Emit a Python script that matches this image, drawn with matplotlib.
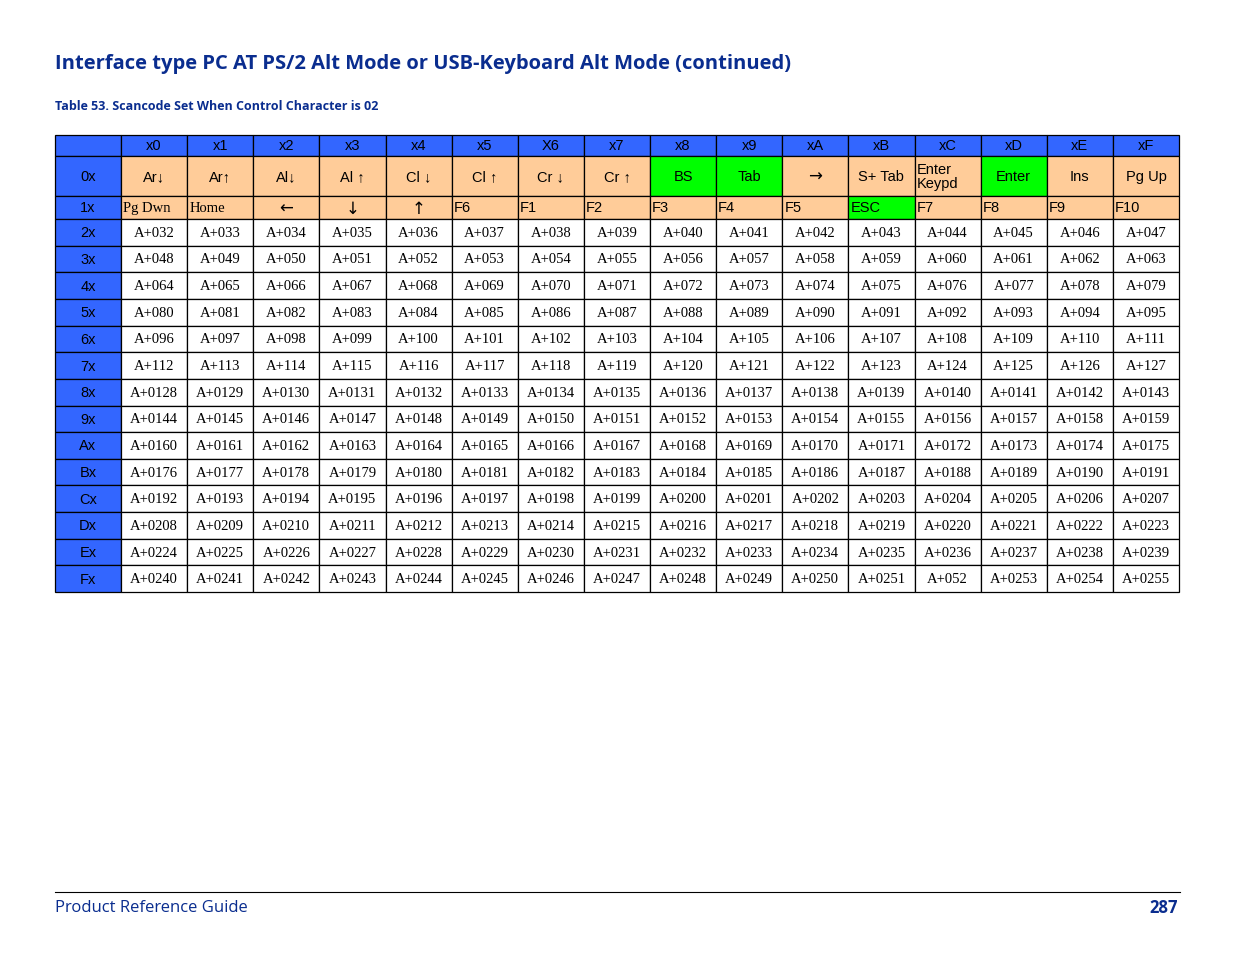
import matplotlib
matplotlib.use("Agg")
import matplotlib.pyplot as plt
from matplotlib.patches import Rectangle

col_labels = ["x0","x1","x2","x3","x4","x5","X6","x7","x8","x9","xA","xB","xC","xD","xE","xF"]
row_labels = ["0x","1x","2x","3x","4x","5x","6x","7x","8x","9x","Ax","Bx","Cx","Dx","Ex","Fx"]
row0 = ["Ar\u2193","Ar\u2191","Al\u2193","Al \u2191","Cl \u2193","Cl \u2191","Cr \u2193","Cr \u2191","BS","Tab","\u2192","S+ Tab","Enter\nKeypd","Enter","Ins","Pg Up"]
row0_green = ["BS","Tab","Enter"]
row1 = ["Pg Dwn","Home","\u2190","\u2193","\u2191","F6","F1","F2","F3","F4","F5","ESC","F7","F8","F9","F10"]
row1_green = ["ESC"]
data_rows = [
 "A+032 A+033 A+034 A+035 A+036 A+037 A+038 A+039 A+040 A+041 A+042 A+043 A+044 A+045 A+046 A+047",
 "A+048 A+049 A+050 A+051 A+052 A+053 A+054 A+055 A+056 A+057 A+058 A+059 A+060 A+061 A+062 A+063",
 "A+064 A+065 A+066 A+067 A+068 A+069 A+070 A+071 A+072 A+073 A+074 A+075 A+076 A+077 A+078 A+079",
 "A+080 A+081 A+082 A+083 A+084 A+085 A+086 A+087 A+088 A+089 A+090 A+091 A+092 A+093 A+094 A+095",
 "A+096 A+097 A+098 A+099 A+100 A+101 A+102 A+103 A+104 A+105 A+106 A+107 A+108 A+109 A+110 A+111",
 "A+112 A+113 A+114 A+115 A+116 A+117 A+118 A+119 A+120 A+121 A+122 A+123 A+124 A+125 A+126 A+127",
 "A+0128 A+0129 A+0130 A+0131 A+0132 A+0133 A+0134 A+0135 A+0136 A+0137 A+0138 A+0139 A+0140 A+0141 A+0142 A+0143",
 "A+0144 A+0145 A+0146 A+0147 A+0148 A+0149 A+0150 A+0151 A+0152 A+0153 A+0154 A+0155 A+0156 A+0157 A+0158 A+0159",
 "A+0160 A+0161 A+0162 A+0163 A+0164 A+0165 A+0166 A+0167 A+0168 A+0169 A+0170 A+0171 A+0172 A+0173 A+0174 A+0175",
 "A+0176 A+0177 A+0178 A+0179 A+0180 A+0181 A+0182 A+0183 A+0184 A+0185 A+0186 A+0187 A+0188 A+0189 A+0190 A+0191",
 "A+0192 A+0193 A+0194 A+0195 A+0196 A+0197 A+0198 A+0199 A+0200 A+0201 A+0202 A+0203 A+0204 A+0205 A+0206 A+0207",
 "A+0208 A+0209 A+0210 A+0211 A+0212 A+0213 A+0214 A+0215 A+0216 A+0217 A+0218 A+0219 A+0220 A+0221 A+0222 A+0223",
 "A+0224 A+0225 A+0226 A+0227 A+0228 A+0229 A+0230 A+0231 A+0232 A+0233 A+0234 A+0235 A+0236 A+0237 A+0238 A+0239",
 "A+0240 A+0241 A+0242 A+0243 A+0244 A+0245 A+0246 A+0247 A+0248 A+0249 A+0250 A+0251 A+052 A+0253 A+0254 A+0255",
]
title = "Interface type PC AT PS/2 Alt Mode or USB-Keyboard Alt Mode (continued)"
subtitle = "Table 53. Scancode Set When Control Character is 02"

BLUE = "#3366ff"; ORANGE = "#ffcc99"; GREEN = "#00ff00"; NAVY = "#0a2d8f"
W, H = 1235, 954
fig = plt.figure(figsize=(W/100, H/100), dpi=100)
ax = fig.add_axes([0, 0, 1, 1])
ax.set_xlim(0, W); ax.set_ylim(H, 0); ax.axis("off")

x0, c0w, cw = 55, 66, 66.125
ys = [136, 157, 197, 220]
rh = (593 - 220) / 14
for i in range(14):
    ys.append(220 + rh * (i + 1))
xs = [x0, x0 + c0w] + [x0 + c0w + cw * (j + 1) for j in range(16)]

def cell(r, c, txt, fc, family="Liberation Sans", size=10.5, align="center"):
    xa, xb, ya, yb = xs[c], xs[c+1], ys[r], ys[r+1]
    ax.add_patch(Rectangle((xa, ya), xb - xa, yb - ya, facecolor=fc, edgecolor="black", lw=0.9))
    if align == "center":
        ax.text((xa+xb)/2, (ya+yb)/2, txt, ha="center", va="center", family=family, fontsize=size, linespacing=1.0)
    else:
        ax.text(xa + 2, (ya+yb)/2, txt, ha="left", va="center", family=family, fontsize=size, linespacing=1.05)

cell(0, 0, "", BLUE)
for j, t in enumerate(col_labels):
    cell(0, j+1, t, BLUE)
for i, t in enumerate(row_labels):
    cell(i+1, 0, t, BLUE)
for j, t in enumerate(row0):
    if t.startswith("Enter\n"):
        cell(1, j+1, t, ORANGE, align="left")
    elif t == "\u2192":
        cell(1, j+1, t, ORANGE, family="DejaVu Sans", size=12)
    else:
        cell(1, j+1, t, GREEN if t in row0_green else ORANGE)
for j, t in enumerate(row1):
    fc = GREEN if t in row1_green else ORANGE
    if j < 2:
        cell(2, j+1, t, fc, family="Liberation Serif", align="left")
    elif j < 5:
        cell(2, j+1, t, fc, family="DejaVu Sans", size=12)
    else:
        cell(2, j+1, t, fc, align="left")
for i, row in enumerate(data_rows):
    for j, t in enumerate(row.split()):
        cell(3+i, j+1, t, "white", family="Liberation Serif", size=10.5)

ax.text(55, 64, title, ha="left", va="center", family="Open Sans", fontweight="bold",
        fontsize=14.5, color=NAVY)
ax.text(55, 106, subtitle, ha="left", va="center", family="Open Sans", fontweight="bold",
        fontsize=9.0, color=NAVY)
ax.plot([55, 1180], [893, 893], color="black", lw=0.8)
ax.text(55, 908, "Product Reference Guide", ha="left", va="center", family="Open Sans",
        fontsize=12, color=NAVY)
ax.text(1178, 908, "287", ha="right", va="center", family="Open Sans", fontweight="bold",
        fontsize=12, color=NAVY)
fig.savefig("out.png", dpi=100)
